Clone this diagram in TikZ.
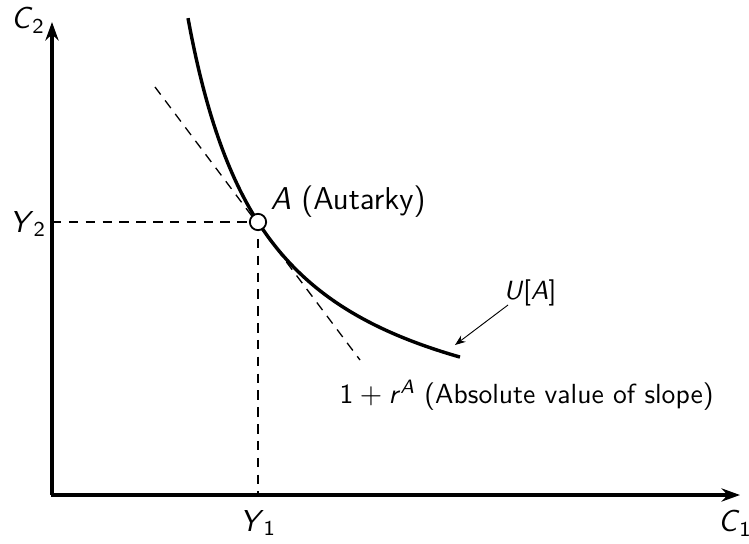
\documentclass[tikz,border=0pt]{standalone}
\usepackage{amsmath}
\usetikzlibrary{arrows.meta}
\newcommand{\mysub}[1]{$_{\textsf{#1}}$}
\newcommand{\mysup}[1]{$^{\textsf{\textit{#1}}}$}
\begin{document}
\begin{tikzpicture}[x=0.38pt,y=-0.38pt,font=\sffamily,
  axis/.style={line width=1.6pt,-{Stealth[length=7pt,width=5pt]}},
  curvestyle/.style={line width=1.3pt},
  guide/.style={line width=0.5pt,dash pattern=on 3.6pt off 2.8pt},
  pointer/.style={line width=0.35pt,-{Stealth[length=4pt,width=3pt]}},
  lbl/.style={inner sep=0pt},
  axlbl/.style={inner sep=0pt,font=\sffamily\fontsize{11.5}{13}\selectfont}]
\useasboundingbox (0,0) rectangle (749,544);
\coordinate (O) at (52,495);
\coordinate (Ytop) at (52,22);
\coordinate (Xend) at (740,495);
\coordinate (Y2) at (52,222);
\coordinate (Y1) at (258,495);
\coordinate (T1) at (155,87);
\coordinate (T2) at (360,360);
\coordinate (P) at (455,345);
% guides
\draw[guide] (Y2) -- (258,222);
\draw[guide] (258,222) -- (Y1);
\draw[guide] (T1) -- (T2);
% curve
\draw[curvestyle] plot[domain=188:460,samples=120,smooth] (\x,{458-356.3/((\x-107)/100)});
% axes
\draw[axis] (52,495) -- (Ytop);
\draw[axis] (51.2,495) -- (Xend);
% point A
\node[circle,draw,fill=white,line width=0.7pt,minimum size=6.2pt,inner sep=0pt] (A) at (258,222) {};
% labels
\node[axlbl] (c2) at (28,20) {\textit{C}\mysub{2}};
\node[axlbl] (c1) at (735,523) {\textit{C}\mysub{1}};
\node[axlbl] (y2) at (28,224) {\textit{Y}\mysub{2}};
\node[axlbl] (y1) at (258,523) {\textit{Y}\mysub{1}};
\node[lbl,anchor=west,font=\sffamily\large] (Alab) at (270,202) {\textit{A} (Autarky)};
\node[lbl,anchor=west,font=\sffamily\fontsize{10.5}{12}\selectfont] (slope) at (339,395) {1${}+{}$\textit{r}\mysup{A} (Absolute value of slope)};
\node[lbl] (U) at (530,293) {\textit{U}[\textit{A}]};
\draw[pointer] (508,305) -- (P);
\end{tikzpicture}
\end{document}
